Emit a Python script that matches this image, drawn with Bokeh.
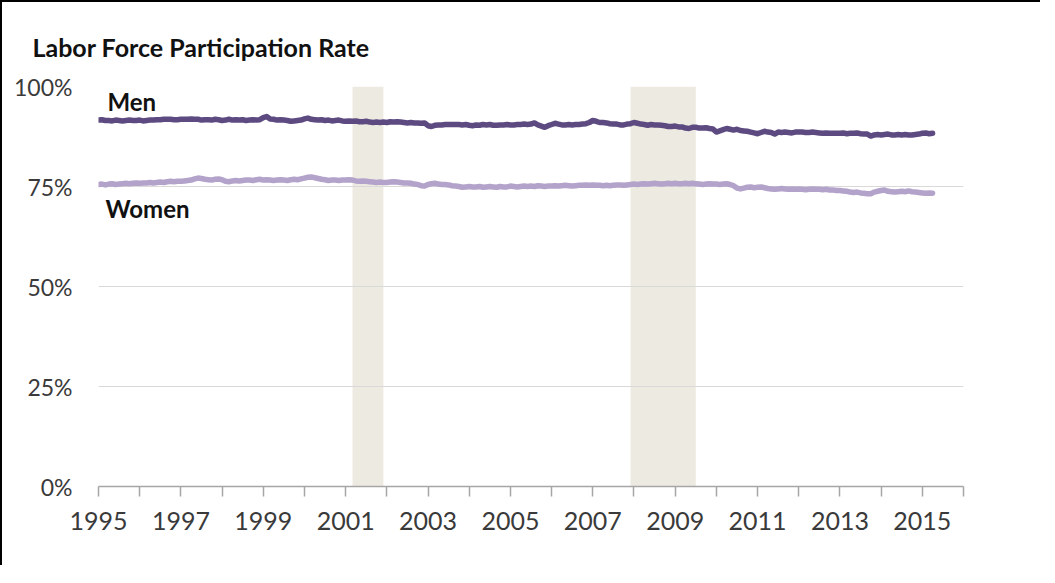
from bokeh.plotting import figure
from bokeh.models import FixedTicker, PrintfTickFormatter, Label
from bokeh.embed import file_html
from bokeh.resources import INLINE

# ---- data (monthly, Jan 1995 - Apr 2015), percent ----
start_year = 1995
men = [
    91.6, 91.7, 91.5, 91.5, 91.4, 91.6, 91.5, 91.4, 91.5, 91.6, 91.5, 91.5,  # 1995
    91.6, 91.4, 91.5, 91.6, 91.6, 91.7, 91.7, 91.8, 91.8, 91.8, 91.7, 91.7,  # 1996
    91.8, 91.8, 91.8, 91.9, 91.8, 91.8, 91.6, 91.7, 91.7, 91.6, 91.8, 91.7,  # 1997
    91.5, 91.6, 91.8, 91.6, 91.7, 91.6, 91.7, 91.5, 91.6, 91.7, 91.6, 91.7,  # 1998
    92.2, 92.5, 91.9, 91.8, 91.6, 91.7, 91.6, 91.5, 91.3, 91.4, 91.5, 91.6,  # 1999
    91.9, 92.1, 91.8, 91.7, 91.6, 91.7, 91.5, 91.6, 91.4, 91.5, 91.6, 91.4,  # 2000
    91.3, 91.4, 91.3, 91.4, 91.2, 91.2, 91.3, 91.1, 91.0, 91.1, 91.0, 91.1,  # 2001
    91.0, 91.2, 91.1, 91.2, 91.1, 91.0, 90.9, 91.0, 90.9, 90.9, 90.8, 90.9,  # 2002
    90.2, 90.0, 90.3, 90.4, 90.4, 90.5, 90.5, 90.5, 90.5, 90.5, 90.4, 90.5,  # 2003
    90.3, 90.2, 90.4, 90.3, 90.5, 90.4, 90.5, 90.3, 90.3, 90.4, 90.4, 90.5,  # 2004
    90.4, 90.4, 90.5, 90.5, 90.6, 90.5, 90.6, 90.9, 90.4, 90.1, 89.8, 90.2,  # 2005
    90.5, 90.8, 90.6, 90.4, 90.4, 90.5, 90.4, 90.5, 90.5, 90.6, 90.7, 91.0,  # 2006
    91.5, 91.3, 91.0, 91.0, 90.9, 90.7, 90.6, 90.6, 90.4, 90.4, 90.6, 90.7,  # 2007
    91.0, 90.8, 90.6, 90.5, 90.3, 90.5, 90.4, 90.4, 90.3, 90.2, 90.0, 90.0,  # 2008
    90.1, 89.9, 89.9, 89.6, 89.5, 89.8, 89.8, 89.6, 89.6, 89.7, 89.5, 89.4,  # 2009
    88.6, 88.9, 89.2, 89.5, 89.3, 89.1, 89.3, 89.0, 88.9, 88.8, 88.6, 88.4,  # 2010
    88.2, 88.5, 88.8, 88.6, 88.5, 88.1, 88.6, 88.5, 88.6, 88.5, 88.4, 88.6,  # 2011
    88.6, 88.6, 88.5, 88.5, 88.6, 88.5, 88.4, 88.3, 88.4, 88.3, 88.3, 88.3,  # 2012
    88.3, 88.4, 88.2, 88.3, 88.3, 88.4, 88.2, 88.1, 88.1, 87.6, 87.9, 88.0,  # 2013
    87.9, 88.0, 88.1, 87.9, 87.9, 88.0, 87.9, 88.0, 87.9, 87.9, 88.0, 88.1,  # 2014
    88.3, 88.4, 88.2, 88.3,                                                  # 2015
]
women = [
    75.5, 75.6, 75.4, 75.6, 75.7, 75.5, 75.6, 75.7, 75.8, 75.7, 75.8, 75.9,  # 1995
    75.8, 75.9, 75.9, 76.0, 75.9, 76.0, 76.1, 76.0, 76.2, 76.3, 76.2, 76.3,  # 1996
    76.3, 76.4, 76.5, 76.6, 76.9, 77.1, 77.0, 76.8, 76.7, 76.6, 76.8, 76.9,  # 1997
    76.7, 76.3, 76.2, 76.4, 76.5, 76.4, 76.5, 76.6, 76.6, 76.5, 76.7, 76.8,  # 1998
    76.6, 76.7, 76.6, 76.5, 76.6, 76.7, 76.6, 76.5, 76.7, 76.8, 76.7, 76.9,  # 1999
    77.1, 77.3, 77.4, 77.2, 77.0, 76.8, 76.7, 76.5, 76.6, 76.6, 76.5, 76.6,  # 2000
    76.6, 76.7, 76.6, 76.4, 76.3, 76.4, 76.3, 76.2, 76.1, 76.0, 76.1, 76.0,  # 2001
    76.0, 76.1, 76.2, 76.1, 76.0, 75.9, 75.9, 75.8, 75.6, 75.5, 75.2, 75.1,  # 2002
    75.5, 75.7, 75.8, 75.6, 75.5, 75.5, 75.4, 75.2, 75.1, 75.0, 74.8, 74.9,  # 2003
    75.0, 74.9, 74.9, 75.0, 74.8, 74.9, 75.0, 74.9, 74.8, 75.0, 74.9, 74.9,  # 2004
    75.1, 75.0, 74.9, 75.0, 75.1, 75.0, 75.1, 75.0, 75.2, 75.1, 75.0, 75.1,  # 2005
    75.1, 75.2, 75.1, 75.2, 75.3, 75.2, 75.1, 75.2, 75.3, 75.3, 75.4, 75.3,  # 2006
    75.4, 75.3, 75.3, 75.2, 75.3, 75.2, 75.3, 75.4, 75.4, 75.3, 75.4, 75.5,  # 2007
    75.6, 75.5, 75.6, 75.7, 75.6, 75.7, 75.8, 75.7, 75.6, 75.7, 75.8, 75.7,  # 2008
    75.8, 75.7, 75.7, 75.8, 75.7, 75.8, 75.7, 75.6, 75.5, 75.6, 75.7, 75.6,  # 2009
    75.6, 75.5, 75.6, 75.7, 75.5, 75.2, 74.6, 74.4, 74.6, 74.8, 74.9, 74.7,  # 2010
    74.8, 74.9, 74.7, 74.5, 74.4, 74.3, 74.4, 74.5, 74.4, 74.3, 74.4, 74.3,  # 2011
    74.4, 74.3, 74.2, 74.3, 74.4, 74.3, 74.3, 74.2, 74.3, 74.1, 74.1, 74.0,  # 2012
    74.0, 73.9, 73.8, 73.6, 73.5, 73.6, 73.4, 73.3, 73.2, 73.2, 73.6, 73.8,  # 2013
    74.0, 74.1, 73.8, 73.7, 73.6, 73.7, 73.8, 73.7, 73.9, 73.7, 73.6, 73.5,  # 2014
    73.4, 73.3, 73.4, 73.3,                                                  # 2015
]
recession_start = [2001 + 2 / 12, 2007 + 11 / 12]
recession_end = [2001 + 11 / 12, 2009 + 6 / 12]
year_ticks = list(range(1995, 2017))
y_ticks = [0, 25, 50, 75, 100]
title_text = "Labor Force Participation Rate"
series_names = ["Men", "Women"]

x_men = [start_year + i / 12 for i in range(len(men))]
x_women = [start_year + i / 12 for i in range(len(women))]

FONT = "Lato"
W, H = 1040, 565

p = figure(width=W, height=H, x_range=(1995, 2016), y_range=(0, 100),
           output_backend="svg", toolbar_location=None,
           min_border_left=96, min_border_right=W - 961,
           min_border_top=84, min_border_bottom=H - 484,
           styles={"border-left": "2px solid #000", "border-top": "2px solid #000"})
p.outline_line_color = None
p.background_fill_color = "white"
p.border_fill_color = "white"

# title
p.title.text = title_text
p.title.align = "left"
p.title.offset = -66
p.title.text_font = FONT
p.title.text_font_style = "bold"
p.title.text_font_size = "25px"
p.title.text_color = "#111111"
p.title.standoff = 49

# recession bands
p.quad(left=recession_start, right=recession_end, bottom=0, top=100,
       fill_color="#EDEBE1", line_color=None, level="underlay")

p.line(x_women, women, line_color="#B3A2CA", line_width=5.5, line_join="round", line_cap="round")
p.line(x_men, men, line_color="#5C4A80", line_width=5.5, line_join="round", line_cap="round")

# axes
p.xgrid.grid_line_color = None
p.ygrid.grid_line_color = "#D9D9D9"
p.ygrid.grid_line_width = 1
p.ygrid.ticker = FixedTicker(ticks=y_ticks)

p.yaxis.ticker = FixedTicker(ticks=y_ticks)
p.yaxis.formatter = PrintfTickFormatter(format="%d%%")
p.yaxis.axis_line_color = None
p.yaxis.major_tick_line_color = None
p.yaxis.minor_tick_line_color = None
p.yaxis.major_tick_out = 0
p.yaxis.major_label_standoff = 26
p.yaxis.major_label_text_font = FONT
p.yaxis.major_label_text_font_size = "23px"
p.yaxis.major_label_text_color = "#3A3A3A"

p.xaxis.ticker = FixedTicker(ticks=year_ticks)
p.xaxis.major_label_overrides = {y: ("" if (y - 1995) % 2 else str(y)) for y in year_ticks}
p.xaxis.axis_line_color = "#A6A6A6"
p.xaxis.axis_line_width = 1.5
p.xaxis.major_tick_line_color = "#A6A6A6"
p.xaxis.major_tick_line_width = 1.5
p.xaxis.major_tick_out = 10
p.xaxis.major_tick_in = 0
p.xaxis.minor_tick_line_color = None
p.xaxis.major_label_standoff = 15
p.xaxis.major_label_text_font = FONT
p.xaxis.major_label_text_font_size = "25px"
p.xaxis.major_label_text_color = "#3A3A3A"

# series labels
p.add_layout(Label(x=1995 + 9 / 41.2, y=96.3, text=series_names[0],
                   text_font=FONT, text_font_style="bold", text_font_size="24px",
                   text_color="#111111", text_baseline="middle", text_align="left"))
p.add_layout(Label(x=1995 + 7 / 41.2, y=69.5, text=series_names[1],
                   text_font=FONT, text_font_style="bold", text_font_size="24px",
                   text_color="#111111", text_baseline="middle", text_align="left"))

open("out.html", "w").write(file_html(p, INLINE))
